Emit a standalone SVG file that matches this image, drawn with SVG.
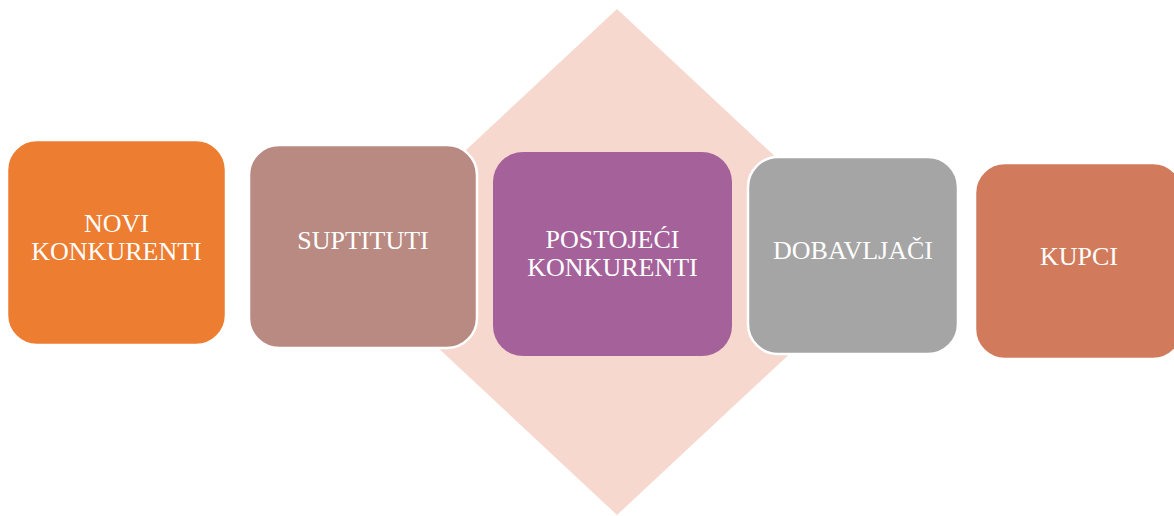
<svg xmlns="http://www.w3.org/2000/svg" width="1174" height="516" viewBox="0 0 1174 516">
<style>
.box{stroke:#ffffff;stroke-width:2.5}
.lbl{font-family:"Liberation Serif","Times New Roman",serif;font-size:26px;fill:#ffffff;text-anchor:middle}
</style>
<rect width="1174" height="516" fill="#ffffff"/>
<g id="diamond">
<polygon points="617,9 888,262 617,515 346,262" fill="#F7D8CE"/>
</g>
<g id="connectors"></g>
<g id="novi-konkurenti">
<rect class="box" x="7" y="140" width="219" height="205" rx="30" fill="#ED7D31"/>
<text class="lbl" x="116.5" y="232">NOVI</text>
<text class="lbl" x="116.5" y="260">KONKURENTI</text>
</g>
<g id="suptituti">
<rect class="box" x="249" y="145" width="228" height="203" rx="30" fill="#B98A82"/>
<text class="lbl" x="363" y="249">SUPTITUTI</text>
</g>
<g id="postojeci-konkurenti">
<rect x="493" y="152" width="239" height="204" rx="30" fill="#A5629A"/>
<text class="lbl" x="612.5" y="248">POSTOJEĆI</text>
<text class="lbl" x="612.5" y="276">KONKURENTI</text>
</g>
<g id="dobavljaci">
<rect class="box" x="748" y="157" width="210" height="197" rx="30" fill="#A5A5A5"/>
<text class="lbl" x="853" y="259">DOBAVLJAČI</text>
</g>
<g id="kupci">
<rect class="box" x="975" y="163" width="208" height="196" rx="30" fill="#D17B5C"/>
<text class="lbl" x="1079" y="265">KUPCI</text>
</g>
</svg>
